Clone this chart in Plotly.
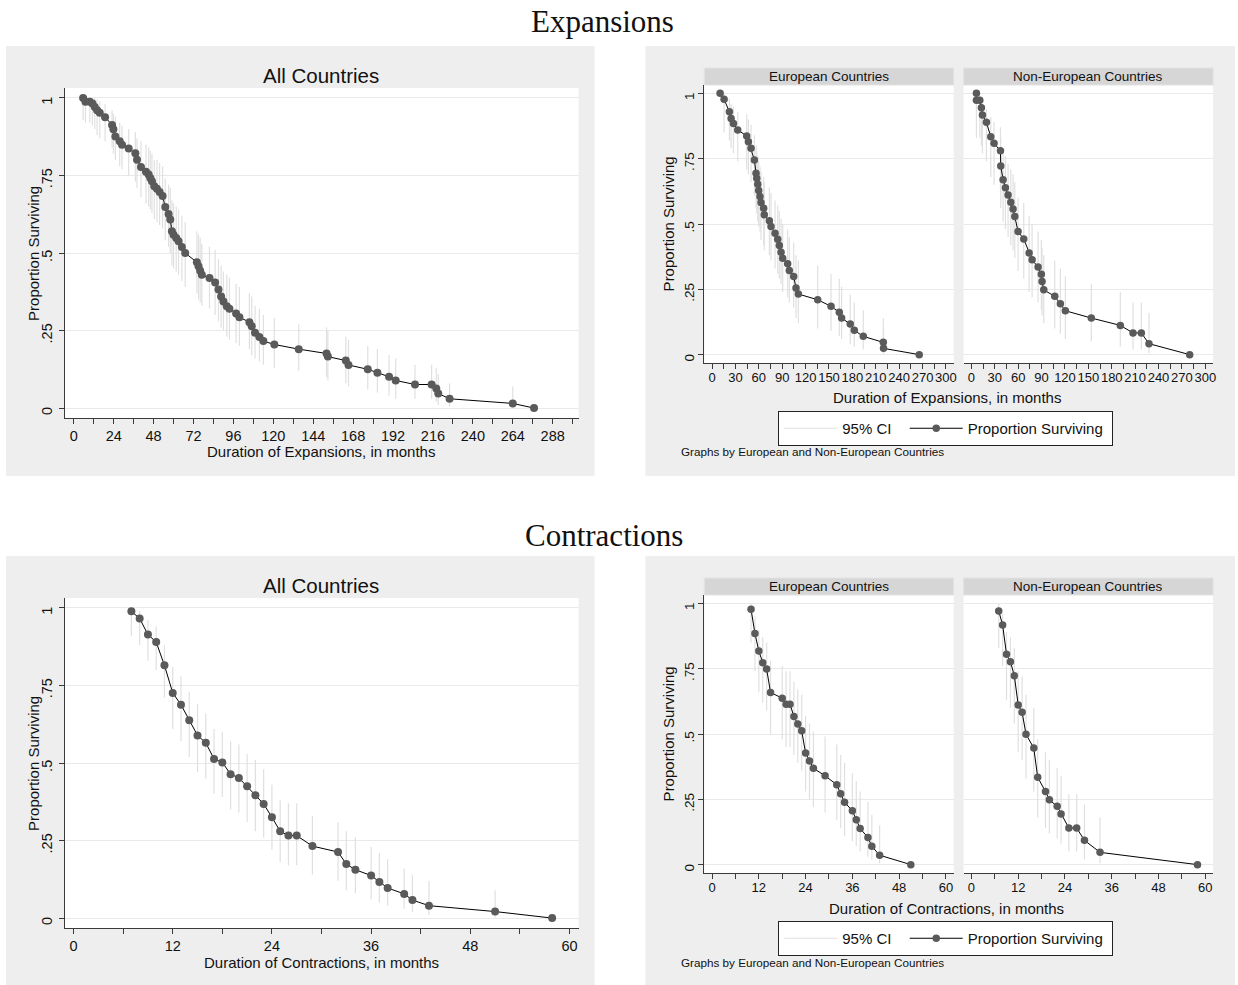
import plotly.graph_objects as go

# ---------------- data ----------------
# Expansions, all countries
all_exp_months = [5.6, 7, 9.6, 11.2, 12.6, 14, 15.6, 18.8, 23, 23.8, 25, 27.6, 29, 33, 37, 38,
                  40.4, 43.4, 45, 46, 47, 48.4, 50, 51.6, 53.4, 55, 57, 58, 59, 60, 61.6, 63, 65, 67,
                  74, 75, 76, 77, 81.6, 85, 87, 88.6, 90, 92, 93.6, 97.6, 99.6, 105.6, 107, 109,
                  111.6, 114, 120.6, 135.3, 152, 152.8, 163.6, 165.2, 176.8, 182.6, 189.6, 193.6,
                  205.2, 215.2, 218, 219.2, 226, 264, 276.8]
all_exp_surv = [1.0, 0.988, 0.988, 0.982, 0.971, 0.960, 0.952, 0.938, 0.913, 0.899, 0.876, 0.860,
                0.849, 0.837, 0.822, 0.801, 0.777, 0.762, 0.753, 0.742, 0.731, 0.715, 0.707, 0.697,
                0.684, 0.648, 0.626, 0.608, 0.570, 0.559, 0.548, 0.538, 0.519, 0.500, 0.470, 0.457,
                0.443, 0.430, 0.419, 0.405, 0.382, 0.360, 0.344, 0.328, 0.320, 0.305, 0.293, 0.277,
                0.264, 0.243, 0.229, 0.216, 0.205, 0.190, 0.176, 0.166, 0.153, 0.139, 0.125, 0.114,
                0.101, 0.089, 0.076, 0.076, 0.063, 0.047, 0.030, 0.015, 0.0]
all_exp_hi = [1.0, 1.0, 1.0, 1.0, 1.0, 0.995, 0.99, 0.98, 0.96, 0.95, 0.94, 0.92, 0.91, 0.90, 0.89,
              0.87, 0.86, 0.85, 0.84, 0.83, 0.82, 0.80, 0.80, 0.79, 0.78, 0.74, 0.72, 0.71, 0.67,
              0.66, 0.65, 0.64, 0.62, 0.60, 0.57, 0.56, 0.55, 0.53, 0.52, 0.51, 0.48, 0.46, 0.44,
              0.43, 0.42, 0.40, 0.39, 0.37, 0.36, 0.33, 0.32, 0.30, 0.29, 0.27, 0.26, 0.25, 0.23,
              0.22, 0.20, 0.19, 0.17, 0.16, 0.14, 0.14, 0.13, 0.11, 0.08, 0.07, None]
all_exp_lo = [0.93, 0.92, 0.92, 0.91, 0.90, 0.88, 0.87, 0.86, 0.84, 0.82, 0.80, 0.78, 0.77, 0.75,
              0.73, 0.71, 0.68, 0.66, 0.65, 0.64, 0.63, 0.61, 0.60, 0.59, 0.58, 0.54, 0.52, 0.50,
              0.46, 0.45, 0.44, 0.43, 0.41, 0.39, 0.37, 0.35, 0.34, 0.33, 0.32, 0.30, 0.28, 0.26,
              0.25, 0.23, 0.22, 0.21, 0.20, 0.19, 0.17, 0.16, 0.15, 0.14, 0.13, 0.12, 0.10, 0.09,
              0.08, 0.07, 0.06, 0.05, 0.04, 0.03, 0.03, 0.03, 0.02, 0.01, 0.005, 0.002, None]

# Expansions, European countries
eu_exp_months = [10.3, 15.4, 22.2, 24.4, 27.4, 32.9, 44.4, 46.6, 50, 54.3, 56.4, 57.3, 58.6, 59.8,
                 61.5, 62.8, 66.2, 67, 73.5, 75.6, 80.8, 84.2, 86.3, 88.5, 90.6, 97, 99.1, 104.7,
                 107.7, 110.7, 135.5, 152.6, 163.2, 166.2, 177.3, 182.5, 194, 219.7, 220, 265.8]
eu_exp_surv = [1.0, 0.977, 0.930, 0.904, 0.885, 0.860, 0.837, 0.815, 0.790, 0.745, 0.694, 0.675,
               0.652, 0.628, 0.605, 0.582, 0.560, 0.535, 0.512, 0.490, 0.465, 0.442, 0.418, 0.392,
               0.369, 0.348, 0.322, 0.299, 0.255, 0.232, 0.210, 0.185, 0.162, 0.140, 0.117, 0.093,
               0.070, 0.047, 0.024, 0.0]
eu_exp_hi = [None, 1.0, 0.98, 0.96, 0.95, 0.93, 0.92, 0.90, 0.88, 0.84, 0.80, 0.78, 0.76, 0.74,
             0.72, 0.70, 0.68, 0.66, 0.64, 0.62, 0.59, 0.57, 0.55, 0.52, 0.50, 0.48, 0.45, 0.43,
             0.38, 0.36, 0.34, 0.31, 0.29, 0.26, 0.23, 0.20, 0.17, 0.14, 0.10, None]
eu_exp_lo = [None, 0.85, 0.82, 0.79, 0.77, 0.74, 0.71, 0.69, 0.66, 0.61, 0.56, 0.54, 0.51, 0.49,
             0.47, 0.44, 0.42, 0.40, 0.38, 0.36, 0.33, 0.31, 0.29, 0.27, 0.24, 0.22, 0.20, 0.18,
             0.14, 0.12, 0.10, 0.09, 0.07, 0.06, 0.04, 0.03, 0.02, 0.01, 0.003, None]

# Expansions, non-European countries
ne_exp_months = [6.4, 6.4, 10.7, 12.8, 14.1, 19.2, 24.8, 29, 37.2, 37.6, 40.6, 43.6, 47, 50.5, 53.4,
                 55.6, 59.8, 67.1, 74, 77.8, 85.5, 89.7, 90.6, 92.8, 106.9, 114.1, 120.5, 153.8,
                 191, 207.3, 218, 227.8, 280]
ne_exp_surv = [1.0, 0.974, 0.974, 0.945, 0.917, 0.889, 0.834, 0.809, 0.780, 0.722, 0.669, 0.639,
               0.611, 0.583, 0.557, 0.529, 0.471, 0.443, 0.389, 0.363, 0.335, 0.308, 0.280, 0.248,
               0.223, 0.195, 0.168, 0.140, 0.112, 0.083, 0.083, 0.042, 0.0]
ne_exp_hi = [None, 0.99, 0.99, 0.98, 0.96, 0.94, 0.91, 0.89, 0.87, 0.83, 0.78, 0.76, 0.73, 0.71,
             0.69, 0.66, 0.60, 0.58, 0.53, 0.50, 0.47, 0.44, 0.41, 0.38, 0.36, 0.33, 0.30, 0.27,
             0.24, 0.20, 0.20, 0.16, None]
ne_exp_lo = [None, 0.83, 0.83, 0.80, 0.77, 0.74, 0.68, 0.65, 0.62, 0.56, 0.51, 0.48, 0.45, 0.42,
             0.40, 0.37, 0.32, 0.29, 0.24, 0.22, 0.20, 0.17, 0.15, 0.12, 0.10, 0.08, 0.06, 0.05,
             0.03, 0.02, 0.02, 0.005, None]

# Contractions, all countries
all_con_months = [7, 8, 9, 10, 11, 12, 13, 14, 15, 16, 17, 18, 19, 20, 21, 22, 23, 24, 25, 26, 27,
                  28.9, 32, 33, 34.1, 36, 37, 38, 40, 41, 43, 51, 57.9]
all_con_surv = [0.989, 0.966, 0.914, 0.890, 0.815, 0.726, 0.688, 0.638, 0.589, 0.565, 0.513, 0.502,
                0.464, 0.452, 0.425, 0.396, 0.368, 0.325, 0.280, 0.266, 0.266, 0.232, 0.213, 0.174,
                0.156, 0.137, 0.116, 0.097, 0.078, 0.058, 0.040, 0.021, 0.0]
all_con_hi = [1.0, 0.99, 0.96, 0.94, 0.88, 0.81, 0.78, 0.73, 0.69, 0.66, 0.61, 0.60, 0.57, 0.56,
              0.53, 0.51, 0.48, 0.43, 0.38, 0.37, 0.37, 0.33, 0.31, 0.28, 0.26, 0.23, 0.21, 0.19,
              0.16, 0.14, 0.12, 0.09, None]
all_con_lo = [0.91, 0.88, 0.83, 0.80, 0.71, 0.61, 0.57, 0.52, 0.47, 0.45, 0.40, 0.39, 0.35, 0.34,
              0.31, 0.28, 0.26, 0.22, 0.18, 0.17, 0.17, 0.14, 0.12, 0.09, 0.08, 0.06, 0.05, 0.04,
              0.03, 0.02, 0.01, 0.002, None]

# Contractions, European countries
eu_con_months = [10, 11, 12, 13, 14, 15, 18, 19, 20, 21, 22, 23, 24, 25, 26, 29, 32, 33, 34, 36, 37,
                 38, 40, 41, 43, 51]
eu_con_surv = [0.977, 0.885, 0.818, 0.773, 0.749, 0.659, 0.637, 0.614, 0.614, 0.567, 0.538, 0.512,
               0.427, 0.397, 0.369, 0.340, 0.306, 0.271, 0.239, 0.206, 0.172, 0.138, 0.104, 0.070,
               0.036, 0.0]
eu_con_hi = [1.0, 0.95, 0.90, 0.87, 0.85, 0.78, 0.76, 0.74, 0.74, 0.70, 0.67, 0.65, 0.57, 0.54,
             0.51, 0.49, 0.46, 0.42, 0.39, 0.35, 0.32, 0.28, 0.24, 0.19, 0.15, None]
eu_con_lo = [0.85, 0.74, 0.66, 0.62, 0.59, 0.50, 0.48, 0.45, 0.45, 0.42, 0.39, 0.36, 0.28, 0.25,
             0.22, 0.20, 0.17, 0.14, 0.11, 0.09, 0.07, 0.05, 0.03, 0.02, 0.005, None]

# Contractions, non-European countries
ne_con_months = [7, 8, 9, 10, 11, 12, 13, 14, 16, 17, 19, 20, 22, 23, 25, 27, 29, 33, 58]
ne_con_surv = [0.971, 0.917, 0.805, 0.777, 0.723, 0.611, 0.583, 0.499, 0.446, 0.334, 0.280, 0.248,
               0.223, 0.194, 0.140, 0.140, 0.093, 0.047, 0.0]
ne_con_hi = [1.0, 0.96, 0.89, 0.87, 0.83, 0.74, 0.72, 0.65, 0.60, 0.48, 0.43, 0.40, 0.37, 0.34,
             0.27, 0.27, 0.23, 0.18, None]
ne_con_lo = [0.83, 0.76, 0.63, 0.60, 0.54, 0.43, 0.40, 0.33, 0.28, 0.18, 0.14, 0.12, 0.10, 0.08,
             0.05, 0.05, 0.02, 0.005, None]

y_tickvals = [0, 0.25, 0.5, 0.75, 1]
y_ticktext = ["0", ".25", ".5", ".75", "1"]

# ---------------- styling ----------------
W, H = 1238, 985
FONT = "Liberation Sans, Arial, Helvetica, sans-serif"
SERIF = "Liberation Serif, Times New Roman, serif"
PANEL_BG = "#eeeeee"
MARK = "#5a5a5a"
CI_COL = "#e0e0e0"
GRID = "#e9e9e9"
AXIS = "#3a3a3a"
TXT = "#111111"
NBSP = "\u00a0"


def fx(p):
    return p / W


def fy(p):
    return 1 - p / H


fig = go.Figure()

# (months, surv, lo, hi, x-domain px, y-domain px (top, bottom), x-range, dtick, minor, showy, legend, showlegend, big)
panels = [
    (all_exp_months, all_exp_surv, all_exp_lo, all_exp_hi, (65, 580), (88, 418), (-5.4, 303.6), 24, 12, True, None, False, True),
    (eu_exp_months, eu_exp_surv, eu_exp_lo, eu_exp_hi, (706, 956), (85, 363), (-10, 310), 30, 15, True, "legend", True, False),
    (ne_exp_months, ne_exp_surv, ne_exp_lo, ne_exp_hi, (966, 1216), (85, 363), (-10, 310), 30, 15, False, "legend", False, False),
    (all_con_months, all_con_surv, all_con_lo, all_con_hi, (65, 580), (598, 928), (-1.05, 61.1), 12, 6, True, None, False, True),
    (eu_con_months, eu_con_surv, eu_con_lo, eu_con_hi, (706, 956), (595, 873), (-2, 62), 12, 6, True, "legend2", True, False),
    (ne_con_months, ne_con_surv, ne_con_lo, ne_con_hi, (966, 1216), (595, 873), (-2, 62), 12, 6, False, "legend2", False, False),
]

shapes = []
# gray graph regions
for (x0, y0, x1, y1) in [(6, 46, 596, 476), (647, 46, 1238, 476), (6, 556, 596, 986), (647, 556, 1238, 986)]:
    shapes.append(dict(type="rect", xref="paper", yref="paper", x0=fx(x0), x1=fx(x1), y0=fy(y1), y1=fy(y0),
                       fillcolor=PANEL_BG, line=dict(width=0), layer="below"))

for i, (mo, sv, lo, hi, xd, yd, xr, dt, mn, showy, leg, showleg, big) in enumerate(panels, start=1):
    sfx = "" if i == 1 else str(i)
    xa, ya = "x" + sfx, "y" + sfx
    # white plot region
    shapes.append(dict(type="rect", xref="paper", yref="paper", x0=fx(xd[0]), x1=fx(xd[1]),
                       y0=fy(yd[1]), y1=fy(yd[0]), fillcolor="white", line=dict(width=0), layer="below"))
    # CI spikes
    cx, cy = [], []
    for m, l, h in zip(mo, lo, hi):
        if l is None or h is None:
            continue
        cx += [m, m, None]
        cy += [l, h, None]
    ci_kw = dict(x=cx, y=cy, mode="lines", line=dict(color=CI_COL, width=1.2),
                 name="95% CI" + NBSP * 2,
                 xaxis=xa, yaxis=ya, hoverinfo="skip", showlegend=showleg)
    main_kw = dict(x=mo, y=sv, mode="lines+markers", name="Proportion Surviving" + NBSP,
                   line=dict(color="black", width=1), marker=dict(color=MARK, size=8 if big else 7.5),
                   xaxis=xa, yaxis=ya, showlegend=showleg)
    if leg:
        ci_kw["legend"] = leg
        main_kw["legend"] = leg
    fig.add_trace(go.Scatter(**ci_kw))
    fig.add_trace(go.Scatter(**main_kw))

    fig.layout["xaxis" + sfx] = dict(
        domain=[fx(xd[0]), fx(xd[1])], range=list(xr), anchor=ya,
        tickmode="linear", tick0=0, dtick=dt, ticks="outside", ticklen=5, tickwidth=1, tickcolor=AXIS,
        minor=dict(dtick=mn, tick0=0, ticks="outside", ticklen=5, tickwidth=1, tickcolor=AXIS, showgrid=False),
        showline=True, linecolor=AXIS, linewidth=1, showgrid=False, zeroline=False, tickangle=0,
        tickfont=dict(family=FONT, size=14.5 if big else 13, color=TXT),
        ticklabelstandoff=0 if big else -3, fixedrange=True,
    )
    fig.layout["yaxis" + sfx] = dict(
        domain=[fy(yd[1]), fy(yd[0])], range=[-0.032, 1.032], anchor=xa,
        tickmode="array", tickvals=y_tickvals, ticktext=y_ticktext, tickangle=-90,
        ticks="outside" if showy else "", ticklen=5, tickwidth=1, tickcolor=AXIS,
        showticklabels=showy, showline=showy, linecolor=AXIS, linewidth=1,
        showgrid=True, gridcolor=GRID, gridwidth=1, zeroline=False,
        tickfont=dict(family=FONT, size=14.5 if big else 13.5, color=TXT),
        ticklabelstandoff=1 if big else -1, ticklabelshift=5, fixedrange=True,
    )

# facet header boxes
for (x0, x1) in [(706, 956), (966, 1216)]:
    for (y0, y1) in [(68, 85), (578, 595)]:
        shapes.append(dict(type="rect", xref="paper", yref="paper", x0=fx(x0), x1=fx(x1), y0=fy(y1), y1=fy(y0),
                           fillcolor="#d6d6d6", line=dict(color="#e2e2e2", width=1), layer="below"))

ann = []


def text(x, y, s, size, family=FONT, angle=0, xanchor="center"):
    ann.append(dict(x=fx(x), y=fy(y), xref="paper", yref="paper", text=s, showarrow=False,
                    font=dict(family=family, size=size, color=TXT), textangle=angle,
                    xanchor=xanchor, yanchor="middle"))


for off in (0, 510):
    # left panel
    text(322, 75 + off, "All Countries", 20.5)
    text(33, 253 + off, "Proportion Surviving", 15, angle=-90)
    # right panel
    text(831, 76.5 + off, "European Countries", 13.5)
    text(1091, 76.5 + off, "Non-European Countries", 13.5)
    text(670, 224 + off, "Proportion Surviving", 15, angle=-90)
    text(681, 452 + off, "Graphs by European and Non-European Countries", 11.7, xanchor="left")

text(322, 452, "Duration of Expansions, in months", 15)
text(949, 398, "Duration of Expansions, in months", 15)
text(322, 962, "Duration of Contractions, in months", 15)
text(949, 908, "Duration of Contractions, in months", 15)

text(604, 22, "Expansions", 31, family=SERIF)
text(605, 535, "Contractions", 31, family=SERIF)

legend_common = dict(orientation="h", xanchor="center", yanchor="top", bgcolor="white",
                     bordercolor="#222222", borderwidth=1, itemwidth=53,
                     font=dict(family=FONT, size=15, color=TXT), traceorder="normal")

fig.update_layout(
    width=W, height=H, margin=dict(l=0, r=0, t=0, b=0),
    paper_bgcolor="white", plot_bgcolor="white",
    shapes=shapes, annotations=ann,
    legend=dict(x=fx(948), y=fy(411), **legend_common),
    legend2=dict(x=fx(948), y=fy(921), **legend_common),
    hovermode=False,
)

fig.write_html("out.html", config={"displayModeBar": False},
               post_script="document.body.style.margin='0px';document.body.style.padding='0px';")
